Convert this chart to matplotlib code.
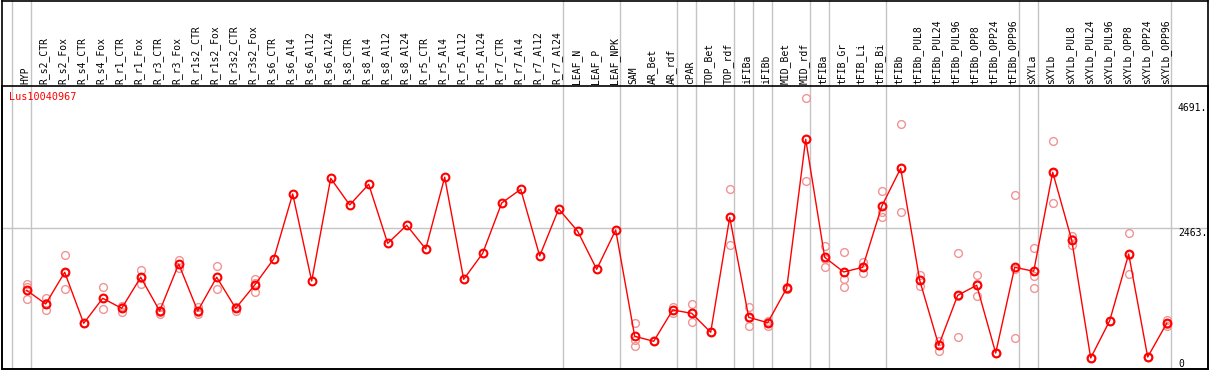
import matplotlib
matplotlib.use('Agg')
import matplotlib.pyplot as plt
import numpy as np
from matplotlib.transforms import blended_transform_factory

# ---------------- data ----------------
categories = [
    "HYP", "R_s2_CTR", "R_s2_Fox", "R_s4_CTR", "R_s4_Fox", "R_r1_CTR", "R_r1_Fox",
    "R_r3_CTR", "R_r3_Fox", "R_r1s2_CTR", "R_r1s2_Fox", "R_r3s2_CTR", "R_r3s2_Fox",
    "R_s6_CTR", "R_s6_Al4", "R_s6_Al12", "R_s6_Al24", "R_s8_CTR", "R_s8_Al4",
    "R_s8_Al12", "R_s8_Al24", "R_r5_CTR", "R_r5_Al4", "R_r5_Al12", "R_r5_Al24",
    "R_r7_CTR", "R_r7_Al4", "R_r7_Al12", "R_r7_Al24", "LEAF_N", "LEAF_P", "LEAF_NPK",
    "SAM", "AR_Bet", "AR_rdf", "cPAR", "TOP_Bet", "TOP_rdf", "iFIBa", "iFIBb",
    "MID_Bet", "MID_rdf", "tFIBa", "tFIB_Gr", "tFIB_Li", "tFIB_Bi", "tFIBb",
    "tFIBb_PUL8", "tFIBb_PUL24", "tFIBb_PUL96", "tFIBb_OPP8", "tFIBb_OPP24", "tFIBb_OPP96",
    "sXYLa", "sXYLb", "sXYLb_PUL8", "sXYLb_PUL24", "sXYLb_PUL96", "sXYLb_OPP8",
    "sXYLb_OPP24", "sXYLb_OPP96",
]

mean_values = [
    1393, 1158, 1702, 826, 1256, 1084, 1617, 1038, 1845, 1038, 1617, 1084, 1484,
    1931, 3048, 1553, 3317, 2859, 3214, 2200, 2510, 2103, 3335, 1582, 2029,
    2893, 3128, 1983, 2790, 2407, 1754, 2429,
    603, 517, 1055, 998, 672, 2647, 929, 837, 1428, 3987,
    1960, 1708, 1788, 2836, 3489,
    1565, 448, 1307, 1479, 316, 1788,
    1720, 3420, 2257, 230, 871, 2017, 247, 826,
]

nan = float("nan")
rep_a = [
    1496, 1256, 2000, 826, 1445, 1124, 1742, 1112, 1914, 1112, 1811, 1112, 1582,
    nan, nan, nan, nan, nan, nan, nan, nan, nan, nan, nan, nan,
    nan, nan, nan, nan, nan, nan, nan,
    826, 517, 1101, 1153, 672, 3128, 1101, 871, 1455, 4691,
    2154, 2046, 1879, 3094, 4245,
    1656, 527, 2034, 1651, 316, 3025,
    2120, 3958, 2331, 230, 871, 2373, 247, 883,
]
rep_b = [
    1445, 1168, 1696, 826, 1256, 1102, 1607, 1021, 1850, 1021, 1630, 1102, 1511,
    nan, nan, nan, nan, nan, nan, nan, nan, nan, nan, nan, nan,
    nan, nan, nan, nan, nan, nan, nan,
    540, 517, 1056, 998, 672, 2647, 911, 855, 1415, 3998,
    1938, 1593, 1800, 2744, 3489,
    1572, 461, 1296, 1496, 316, 1765,
    1644, 3414, 2274, 230, 871, 2005, 247, 815,
]
rep_c = [
    1239, 1050, 1410, 826, 1067, 1026, 1502, 981, 1771, 981, 1410, 1038, 1359,
    nan, nan, nan, nan, nan, nan, nan, nan, nan, nan, nan, nan,
    nan, nan, nan, nan, nan, nan, nan,
    443, 517, 1008, 843, 672, 2166, 775, 785, 1415, 3271,
    1788, 1445, 1685, 2658, 2733,
    1467, 356, 591, 1290, 316, 574,
    1428, 2888, 2166, 230, 871, 1673, 247, 780,
]

# group separators are drawn after these category indices
separators_after = [-1, 0, 28, 31, 34, 35, 37, 38, 39, 41, 42, 45, 52, 53, 60]
gene_id = "Lus10040967"
tick_values = [0, 2463, 4691]
tick_labels = ["0", "2463.", "4691."]

# ---------------- figure ----------------
W, H = 1209, 370
fig = plt.figure(figsize=(W / 100, H / 100), dpi=100)
fig.patch.set_facecolor("white")

L, R, T, B = 1.5, 1207.5, 85.5, 368.5
ax = fig.add_axes([L / W, 1 - B / H, (R - L) / W, (B - T) / H])
frame = fig.add_axes([L / W, 1 - B / H, (R - L) / W, (B - 0.5) / H])
frame.set_facecolor("none")
frame.set_xticks([]); frame.set_yticks([])
for s in frame.spines.values():
    s.set_color("black"); s.set_linewidth(1.2)
frame.set_zorder(5)

x = np.arange(len(categories))
# pixel mapping: px = 26.7 + 19*i ; value = (371.4 - py) * 17.178
ax.set_xlim((L - 26.7) / 19, (R - 26.7) / 19)
ax.set_ylim((371.4 - B) * 17.178, (371.4 - T) * 17.178)
ax.set_xticks([]); ax.set_yticks([])
for s in ax.spines.values():
    s.set_color("black"); s.set_linewidth(1.2)

mono = "DejaVu Sans Mono"
grey = "#c4c4c4"
blend = blended_transform_factory(ax.transData, fig.transFigure)

# separators across the whole height
for s in separators_after:
    xs = s + 0.21
    ax.plot([xs, xs], [0, 1], transform=blend, color=grey, lw=1.0,
            clip_on=False, zorder=0.5)

ax.axhline(tick_values[1], color=grey, lw=1.0, zorder=0.5)

# replicates
rep_color = "#f09494"
for reps in (rep_a, rep_b, rep_c):
    ax.plot(x, reps, linestyle="none", marker="o", markersize=5.6,
            markerfacecolor="none", markeredgecolor=rep_color,
            markeredgewidth=1.0, zorder=2)

# mean line
ax.plot(x, mean_values, color="red", lw=1.0, zorder=3)
ax.plot(x, mean_values, linestyle="none", marker="o", markersize=5.6,
        markerfacecolor="none", markeredgecolor="red", markeredgewidth=1.5,
        zorder=4)

# category labels
label_y = 1 - 84 / H
for i, c in enumerate(categories):
    ax.text(i - 0.08, label_y, c, transform=blend, rotation=90, ha="center",
            va="bottom", fontsize=7, family=mono, color="black")

# value labels on right
label_x = (1178 - 26.7) / 19
offsets = {0: 9.0, 2463: -0.2, 4691: -3.6}
for v, t in zip(tick_values, tick_labels):
    ax.annotate(t, xy=(label_x, v), xytext=(0, offsets[v]),
                textcoords="offset points", ha="left", va="top",
                fontsize=7, family=mono, color="black", annotation_clip=False)

fig.text(9 / W, 1 - 97 / H, gene_id, color="red", fontsize=7.3, family=mono,
         ha="left", va="center")

fig.savefig("out.png", dpi=100, facecolor="white")
